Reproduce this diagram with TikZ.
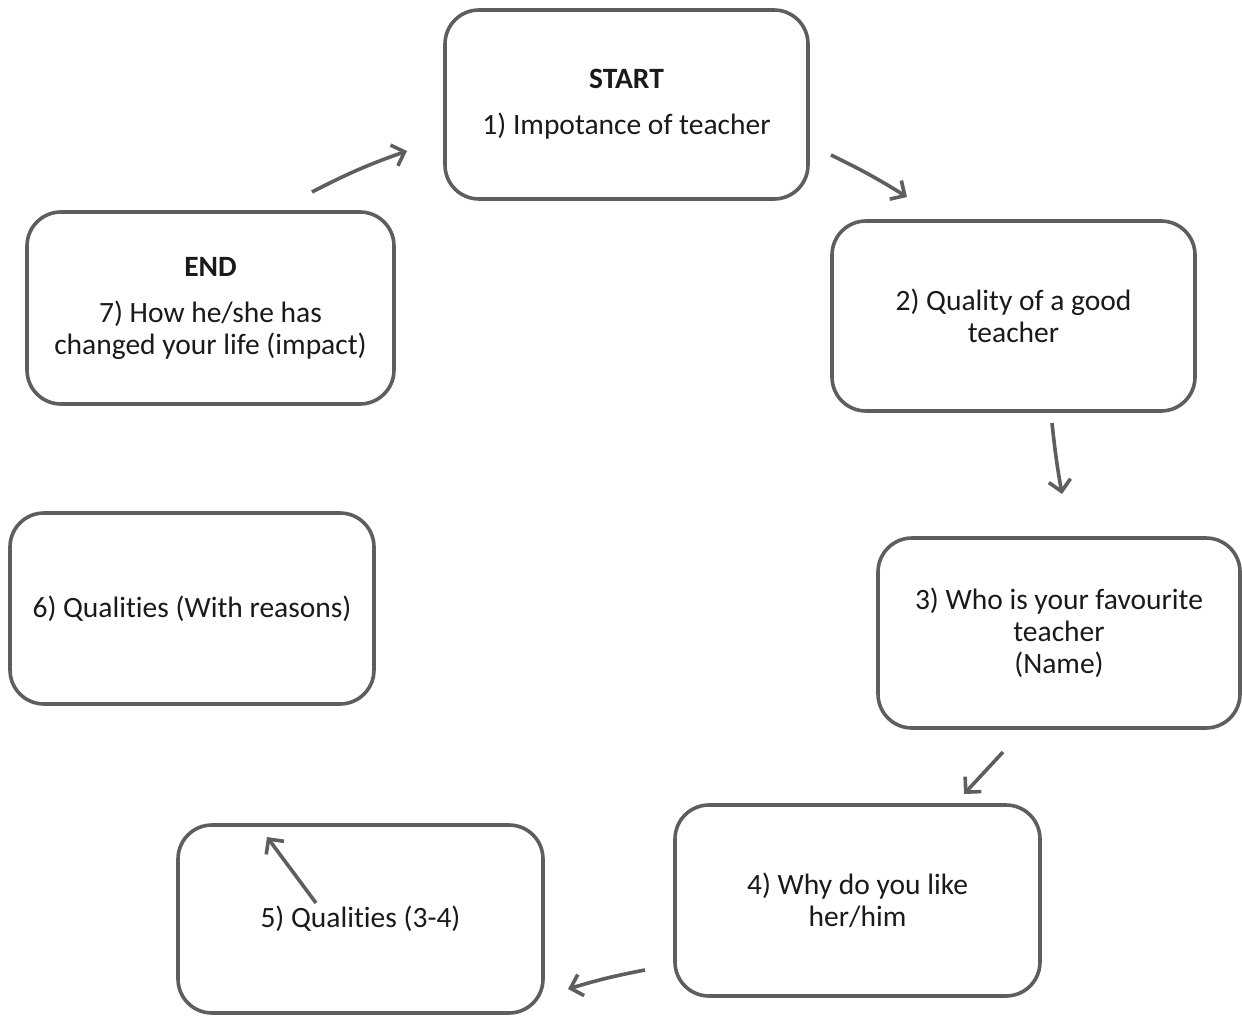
\documentclass[tikz,border=0pt]{standalone}
\usepackage{fontspec}
\setmainfont[Ligatures={NoCommon}]{Carlito}
\usetikzlibrary{arrows.meta}
\definecolor{edge}{HTML}{5E5E5E}
\definecolor{ink}{HTML}{1A1A1A}
\tikzset{
  stage/.style={draw=edge, line width=3.6pt, rounded corners=34pt, fill=white,
    inner sep=0pt, align=center, text=ink, font=\fontsize{29.5}{32}\selectfont},
  flow/.style={draw=edge, line width=3.6pt,
    -{Straight Barb[length=11pt, width=22pt, line width=3.6pt]}},
}
\begin{document}
\begin{tikzpicture}[x=1pt, y=-1pt]
\useasboundingbox (0,0) rectangle (1242,1016);
% stage boxes
\node[stage, minimum width=363pt, minimum height=189pt] (s1) at (626.5,104.5)
  {\textbf{START}\\[14pt]1) Impotance of teacher};
\node[stage, minimum width=363pt, minimum height=190pt] (s2) at (1013.5,316)
  {2) Quality of a good\\teacher};
\node[stage, minimum width=362pt, minimum height=190pt] (s3) at (1059,633)
  {3) Who is your favourite\\teacher\\(Name)};
\node[stage, minimum width=365pt, minimum height=191pt] (s4) at (857.5,900.5)
  {4) Why do you like\\her/him};
\node[stage, minimum width=365pt, minimum height=188pt] (s5) at (360.5,919)
  {5) Qualities (3-4)};
\node[stage, minimum width=364pt, minimum height=191pt] (s6) at (192,608.5)
  {6) Qualities (With reasons)};
\node[stage, minimum width=367pt, minimum height=192pt] (s7) at (210.5,308)
  {\textbf{END}\\[14pt]7) How he/she has\\changed your life (impact)};
% free ends of the arrows
\coordinate (a1s) at (312,192);  \coordinate (a1e) at (407,151);
\coordinate (a2s) at (831,155);  \coordinate (a2e) at (907,197);
\coordinate (a3s) at (1052,423); \coordinate (a3e) at (1062,494);
\coordinate (a4s) at (1003,752); \coordinate (a4e) at (964,794);
\coordinate (a5s) at (645,970);  \coordinate (a5e) at (568,989);
\coordinate (a6s) at (316,903);  \coordinate (a6e) at (267,837);
% arrows
\draw[flow] (a1s) to[bend left=4] (a1e);
\draw[flow] (a2s) to[bend left=3] (a2e);
\draw[flow] (a3s) to[bend right=2] (a3e);
\draw[flow] (a4s) -- (a4e);
\draw[flow] (a5s) to[bend right=3] (a5e);
\draw[flow] (a6s) -- (a6e);
\end{tikzpicture}
\end{document}
